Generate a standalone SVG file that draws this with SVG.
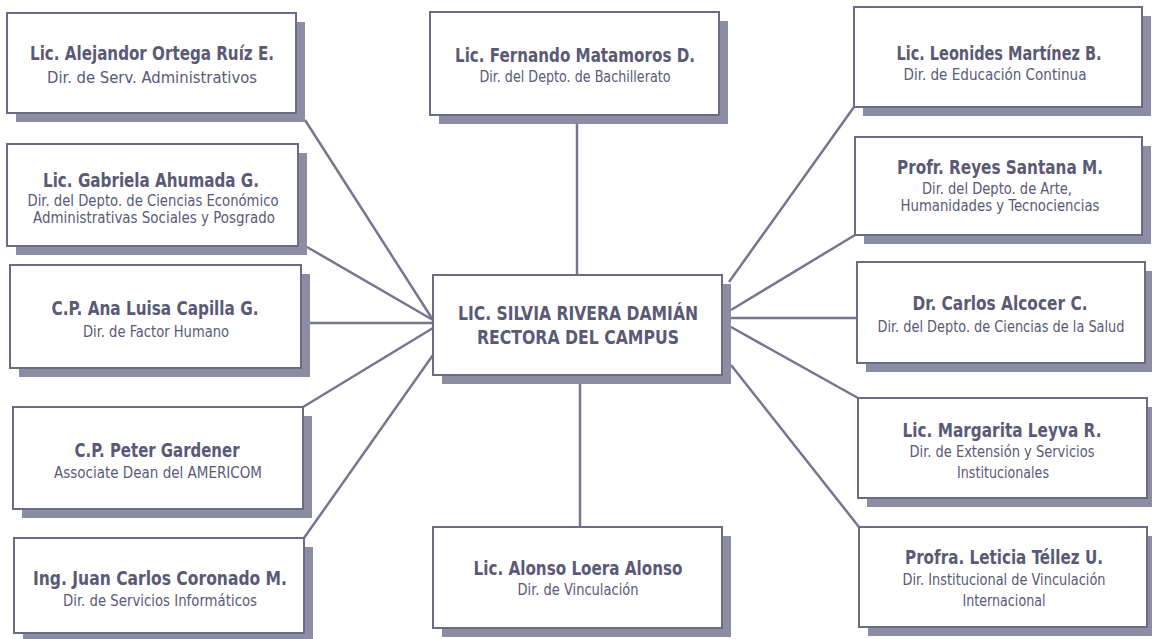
<svg xmlns="http://www.w3.org/2000/svg" width="1152" height="639" viewBox="0 0 1152 639">
<style>
.sh{fill:#8c8ca3}
.bx{fill:#ffffff;stroke:#6b6b86;stroke-width:2}
.t{font-family:"Liberation Sans Narrow","DejaVu Sans Condensed","Liberation Sans",sans-serif;font-weight:bold;font-size:20px;fill:#5a5a76;text-anchor:middle}
.s{font-family:"Liberation Sans Narrow","DejaVu Sans Condensed","Liberation Sans",sans-serif;font-size:15.5px;fill:#5a5a76;text-anchor:middle}
.ln{stroke:#76768f;stroke-width:2.5;fill:none}
</style>
<rect width="1152" height="639" fill="#ffffff"/>
<g id="connectors">
<line class="ln" x1="305" y1="120" x2="433" y2="320"/>
<line class="ln" x1="307" y1="247" x2="433" y2="320"/>
<line class="ln" x1="310" y1="323" x2="433" y2="323"/>
<line class="ln" x1="303" y1="407" x2="433" y2="328"/>
<line class="ln" x1="304" y1="538" x2="433" y2="355"/>
<line class="ln" x1="577" y1="124" x2="577" y2="275"/>
<line class="ln" x1="580" y1="384" x2="580" y2="527"/>
<line class="ln" x1="854" y1="107" x2="729" y2="282"/>
<line class="ln" x1="855" y1="235" x2="731" y2="310"/>
<line class="ln" x1="731" y1="318" x2="857" y2="318"/>
<line class="ln" x1="731" y1="327" x2="858" y2="398"/>
<line class="ln" x1="731" y1="365" x2="859" y2="527"/>
</g>
<g id="n-ortega">
<rect class="sh" x="16" y="22" width="289" height="100"/>
<rect class="bx" x="7" y="13" width="289" height="100"/>
<text class="t" x="152" y="60" textLength="244" lengthAdjust="spacingAndGlyphs">Lic. Alejandor Ortega Ruíz E.</text>
<text class="s" x="152" y="83" textLength="210" lengthAdjust="spacingAndGlyphs">Dir. de Serv. Administrativos</text>
</g>
<g id="n-ahumada">
<rect class="sh" x="16" y="153" width="291" height="102"/>
<rect class="bx" x="7" y="144" width="291" height="102"/>
<text class="t" x="151" y="187" textLength="216" lengthAdjust="spacingAndGlyphs">Lic. Gabriela Ahumada G.</text>
<text class="s" x="153" y="206" textLength="251" lengthAdjust="spacingAndGlyphs">Dir. del Depto. de Ciencias Económico</text>
<text class="s" x="154" y="223" textLength="242" lengthAdjust="spacingAndGlyphs">Administrativas Sociales y Posgrado</text>
</g>
<g id="n-capilla">
<rect class="sh" x="19" y="274" width="291" height="103"/>
<rect class="bx" x="10" y="265" width="291" height="103"/>
<text class="t" x="155" y="315" textLength="207" lengthAdjust="spacingAndGlyphs">C.P. Ana Luisa Capilla G.</text>
<text class="s" x="156" y="337" textLength="146" lengthAdjust="spacingAndGlyphs">Dir. de Factor Humano</text>
</g>
<g id="n-gardener">
<rect class="sh" x="22" y="416" width="290" height="102"/>
<rect class="bx" x="13" y="407" width="290" height="102"/>
<text class="t" x="157" y="457" textLength="165" lengthAdjust="spacingAndGlyphs">C.P. Peter Gardener</text>
<text class="s" x="158" y="478" textLength="208" lengthAdjust="spacingAndGlyphs">Associate Dean del AMERICOM</text>
</g>
<g id="n-coronado">
<rect class="sh" x="23" y="547" width="290" height="95"/>
<rect class="bx" x="14" y="538" width="290" height="95"/>
<text class="t" x="160" y="585" textLength="254" lengthAdjust="spacingAndGlyphs">Ing. Juan Carlos Coronado M.</text>
<text class="s" x="160" y="606" textLength="194" lengthAdjust="spacingAndGlyphs">Dir. de Servicios Informáticos</text>
</g>
<g id="n-matamoros">
<rect class="sh" x="439" y="21" width="289" height="103"/>
<rect class="bx" x="430" y="12" width="289" height="103"/>
<text class="t" x="575" y="62" textLength="240" lengthAdjust="spacingAndGlyphs">Lic. Fernando Matamoros D.</text>
<text class="s" x="575" y="82" textLength="191" lengthAdjust="spacingAndGlyphs">Dir. del Depto. de Bachillerato</text>
</g>
<g id="n-rectora">
<rect class="sh" x="442" y="284" width="289" height="100"/>
<rect class="bx" x="433" y="275" width="289" height="100"/>
<text class="t" x="578" y="320" textLength="240" lengthAdjust="spacingAndGlyphs">LIC. SILVIA RIVERA DAMIÁN</text>
<text class="t" x="578" y="344" textLength="202" lengthAdjust="spacingAndGlyphs">RECTORA DEL CAMPUS</text>
</g>
<g id="n-loera">
<rect class="sh" x="442" y="536" width="289" height="101"/>
<rect class="bx" x="433" y="527" width="289" height="101"/>
<text class="t" x="578" y="575" textLength="209" lengthAdjust="spacingAndGlyphs">Lic. Alonso Loera Alonso</text>
<text class="s" x="578" y="595" textLength="121" lengthAdjust="spacingAndGlyphs">Dir. de Vinculación</text>
</g>
<g id="n-martinez">
<rect class="sh" x="863" y="16" width="288" height="100"/>
<rect class="bx" x="854" y="7" width="288" height="100"/>
<text class="t" x="999" y="60" textLength="205" lengthAdjust="spacingAndGlyphs">Lic. Leonides Martínez B.</text>
<text class="s" x="995" y="80" textLength="183" lengthAdjust="spacingAndGlyphs">Dir. de Educación Continua</text>
</g>
<g id="n-santana">
<rect class="sh" x="864" y="146" width="287" height="98"/>
<rect class="bx" x="855" y="137" width="287" height="98"/>
<text class="t" x="1000" y="174" textLength="206" lengthAdjust="spacingAndGlyphs">Profr. Reyes Santana M.</text>
<text class="s" x="997" y="194" textLength="150" lengthAdjust="spacingAndGlyphs">Dir. del Depto. de Arte,</text>
<text class="s" x="1000" y="211" textLength="199" lengthAdjust="spacingAndGlyphs">Humanidades y Tecnociencias</text>
</g>
<g id="n-alcocer">
<rect class="sh" x="866" y="271" width="288" height="101"/>
<rect class="bx" x="857" y="262" width="288" height="101"/>
<text class="t" x="1000" y="310" textLength="175" lengthAdjust="spacingAndGlyphs">Dr. Carlos Alcocer C.</text>
<text class="s" x="1001" y="332" textLength="247" lengthAdjust="spacingAndGlyphs">Dir. del Depto. de Ciencias de la Salud</text>
</g>
<g id="n-leyva">
<rect class="sh" x="867" y="407" width="289" height="100"/>
<rect class="bx" x="858" y="398" width="289" height="100"/>
<text class="t" x="1002" y="437" textLength="199" lengthAdjust="spacingAndGlyphs">Lic. Margarita Leyva R.</text>
<text class="s" x="1002" y="457" textLength="185" lengthAdjust="spacingAndGlyphs">Dir. de Extensión y Servicios</text>
<text class="s" x="1003" y="478" textLength="92" lengthAdjust="spacingAndGlyphs">Institucionales</text>
</g>
<g id="n-tellez">
<rect class="sh" x="868" y="536" width="288" height="100"/>
<rect class="bx" x="859" y="527" width="288" height="100"/>
<text class="t" x="1004" y="564" textLength="198" lengthAdjust="spacingAndGlyphs">Profra. Leticia Téllez U.</text>
<text class="s" x="1004" y="585" textLength="203" lengthAdjust="spacingAndGlyphs">Dir. Institucional de Vinculación</text>
<text class="s" x="1004" y="606" textLength="83" lengthAdjust="spacingAndGlyphs">Internacional</text>
</g>
</svg>
